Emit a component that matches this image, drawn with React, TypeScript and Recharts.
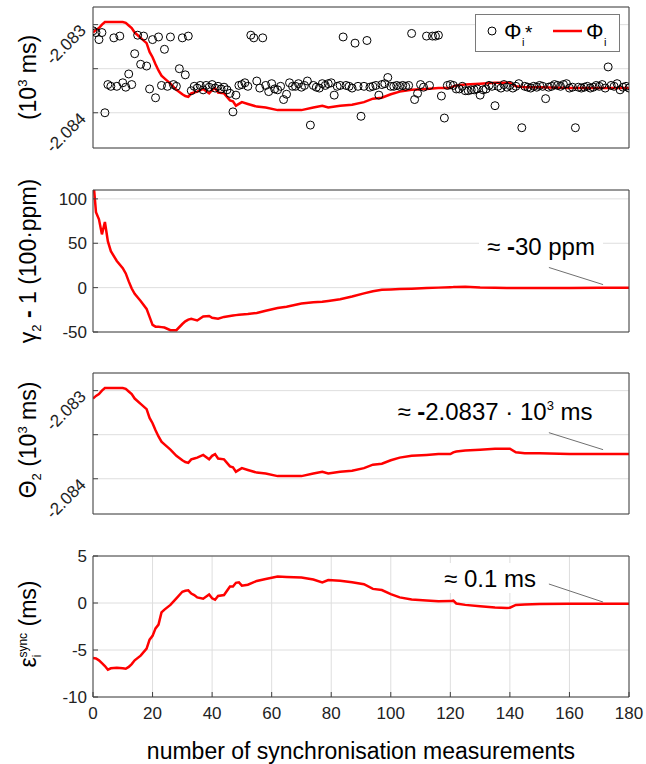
import React from 'react';
import { ComposedChart, Line, Scatter, XAxis, YAxis, CartesianGrid, ReferenceLine } from 'recharts';

const xTicks = [0, 20, 40, 60, 80, 100, 120, 140, 160, 180];
const phaseTicks = [-2.084, -2.0835, -2.083];
const phaseLabelled = [-2.084, -2.083];
const gammaTicks = [-50, 0, 50, 100];
const epsTicks = [-10, -5, 0, 5];

// Φi* per measurement 0..180 (10^3 ms)
const phiStar = [
  -2.08307, -2.08309, -2.08317, -2.08309, -2.084, -2.08368, -2.0837, -2.08315, -2.0837, -2.08313,
  -2.08366, -2.08371, -2.08356, -2.08368, -2.08333, -2.08312, -2.08345, -2.08313, -2.08347, -2.08373,
  -2.08317, -2.08383, -2.08314, -2.08369, -2.08328, -2.0837, -2.08314, -2.08368, -2.0837, -2.0835,
  -2.08315, -2.08357, -2.08313, -2.08375, -2.0837, -2.08372, -2.08369, -2.08374, -2.08369, -2.08371,
  -2.08368, -2.08372, -2.0837, -2.08373, -2.08371, -2.08374, -2.08378, -2.08399, -2.0838, -2.08369,
  -2.08368, -2.08366, -2.0837, -2.08312, -2.08315, -2.08364, -2.08372, -2.08315, -2.08369, -2.08376,
  -2.08367, -2.08373, -2.08374, -2.0837, -2.08385, -2.08379, -2.08366, -2.0837, -2.0837, -2.08367,
  -2.08371, -2.08369, -2.08364, -2.08414, -2.08369, -2.08371, -2.08372, -2.08367, -2.08369, -2.08367,
  -2.08366, -2.0838, -2.0837, -2.08369, -2.08314, -2.08369, -2.0837, -2.08372, -2.08321, -2.0837,
  -2.08404, -2.0837, -2.08318, -2.08371, -2.0837, -2.08369, -2.0838, -2.08368, -2.08367, -2.0836,
  -2.0837, -2.0837, -2.08369, -2.0837, -2.08369, -2.0837, -2.08369, -2.0831, -2.08385, -2.08378,
  -2.08368, -2.08371, -2.08313, -2.08369, -2.08313, -2.08313, -2.08312, -2.08381, -2.08406, -2.08369,
  -2.08368, -2.08369, -2.08373, -2.08373, -2.0837, -2.08375, -2.08375, -2.08374, -2.08374, -2.08373,
  -2.0838, -2.08374, -2.08373, -2.08369, -2.0837, -2.08392, -2.0837, -2.08372, -2.08368, -2.08371,
  -2.08369, -2.08372, -2.0837, -2.08367, -2.08417, -2.0837, -2.08371, -2.08372, -2.0837, -2.08371,
  -2.08369, -2.0837, -2.08384, -2.08371, -2.0837, -2.08368, -2.08369, -2.0837, -2.08368, -2.08367,
  -2.08372, -2.08371, -2.08417, -2.08371, -2.08372, -2.08371, -2.0837, -2.08372, -2.08371, -2.08369,
  -2.0837, -2.08368, -2.08372, -2.08348, -2.08369, -2.0837, -2.08367, -2.08374, -2.08371, -2.0837,
  -2.08372,
];

// sampled estimates of the three fitted quantities
const sampleX = [
  0, 1, 2, 3, 4, 5, 6, 8, 10, 11, 12, 13, 14, 16, 18, 19, 20, 21, 22, 23, 24, 26, 28, 30, 31, 32, 33, 34, 35,
  37, 39, 40, 41, 42, 44, 46, 47, 48, 49, 50, 52, 55, 58, 62, 65, 70, 74, 77, 79, 83, 87, 91, 94, 97, 100,
  103, 107, 112, 116, 120, 121, 122, 125, 130, 135, 139, 140, 142, 145, 150, 160, 170, 180,
];
const theta2 = [
  -2.08309, -2.08306, -2.08304, -2.083, -2.08297, -2.08297, -2.08297, -2.08297, -2.08297, -2.08298, -2.08301,
  -2.08304, -2.08309, -2.08315, -2.08321, -2.08331, -2.08337, -2.08345, -2.08352, -2.08358, -2.08361, -2.08367,
  -2.08374, -2.08379, -2.08381, -2.08382, -2.08378, -2.08377, -2.08376, -2.08373, -2.08378, -2.08374, -2.08372,
  -2.08377, -2.08378, -2.08386, -2.08387, -2.08392, -2.0839, -2.08388, -2.0839, -2.08393, -2.08394, -2.08397,
  -2.08397, -2.08397, -2.08394, -2.08392, -2.08394, -2.08392, -2.08391, -2.08388, -2.08384, -2.08383, -2.08379,
  -2.08376, -2.08374, -2.08373, -2.08372, -2.08372, -2.0837, -2.08369, -2.08368, -2.08367, -2.08366, -2.08366,
  -2.08366, -2.0837, -2.08371, -2.08371, -2.08372, -2.08372, -2.08372,
];
const gamma2 = [
  125, 85, 77, 60, 74, 52, 41, 30, 22, 16, 7, -1, -7, -15, -24, -33, -42, -44, -44, -44.5, -45, -48, -48, -41,
  -38, -36, -35, -36, -37, -32.5, -32, -34, -34.5, -35, -33, -32, -31.5, -31, -30.5, -30.3, -29.8, -28.5, -26,
  -23, -21.5, -18, -16.5, -16, -15, -13, -10, -6.5, -4, -2.5, -2, -1.6, -1.2, -0.5, 0, 0.5, 0.6, 0.8, 1, 0.2,
  -0.2, -0.3, -0.3, -0.3, -0.4, -0.3, -0.3, -0.2, 0,
];
const epsSync = [
  -5.85, -5.9, -6.1, -6.4, -6.7, -7.1, -6.95, -6.9, -6.95, -7, -6.8, -6.5, -6.1, -5.6, -4.85, -3.9, -3.5, -2.7,
  -2.3, -1, -0.7, -0.2, 0.5, 1.2, 1.3, 1.35, 1, 0.85, 0.6, 0.45, 0.9, 0.5, 0.35, 0.75, 0.85, 1.75, 1.75, 2.15,
  2.2, 1.85, 1.95, 2.35, 2.55, 2.82, 2.77, 2.72, 2.5, 2.2, 2.45, 2.36, 2.2, 2, 1.5, 1.38, 0.95, 0.6, 0.38, 0.26,
  0.18, 0.2, 0.25, -0.05, -0.2, -0.35, -0.48, -0.52, -0.5, -0.2, -0.15, -0.1, -0.07, -0.07, -0.07,
];

type Row = { x: number; phiStar: number; theta?: number; gamma?: number; eps?: number };
const rows: Row[] = phiStar.map((v, i) => ({ x: i, phiStar: v }));
sampleX.forEach((x, k) => {
  rows[x].theta = theta2[k];
  rows[x].gamma = gamma2[k];
  rows[x].eps = epsSync[k];
});

const AXIS = '#404040';
const GRID = '#dedede';
const RED = '#ff0000';
const FONT = '"Liberation Sans", Arial, Helvetica, sans-serif';
const W = 646;
const PLOT_LEFT = 93;
const PLOT_RIGHT = 629;
const YW = 60;

const PhaseTick = (props: any) => {
  const { y, payload } = props;
  if (!phaseLabelled.some((v) => Math.abs(v - payload.value) < 1e-9)) return <g />;
  const px = PLOT_LEFT - 6;
  const py = y + 7;
  return (
    <text x={px} y={py} transform={`rotate(-45 ${px} ${py})`} textAnchor="end" fontSize={17} fill="#222" fontFamily={FONT}>
      {payload.value.toFixed(3)}
    </text>
  );
};

const Circle = (p: any) => <circle cx={p.cx} cy={p.cy} r={4} fill="none" stroke="#000" strokeWidth={1} />;

type Pt = { x: number; y: number };
type PanelProps = {
  top: number;
  height: number;
  plotTop: number;
  plotBottom: number;
  yKey: string;
  domain: [number, number];
  yTicks: number[];
  rotated?: boolean;
  withScatter?: boolean;
  xLabels?: boolean;
  pointer?: [Pt, Pt];
};

function Panel({ top, height, plotTop, plotBottom, yKey, domain, yTicks, rotated, withScatter, xLabels, pointer }: PanelProps) {
  const xh = xLabels ? 30 : 1;
  const tickStyle = { fontSize: 17, fill: '#222', fontFamily: FONT };
  return (
    <div style={{ position: 'absolute', left: 0, top }}>
      <ComposedChart
        width={W}
        height={height}
        data={rows}
        margin={{ top: plotTop - top - 1, bottom: top + height - plotBottom - xh, left: PLOT_LEFT - YW, right: W - PLOT_RIGHT - 1 }}
      >
        <CartesianGrid stroke={GRID} />
        <XAxis
          dataKey="x"
          type="number"
          domain={[0, 180]}
          ticks={xTicks}
          interval={0}
          allowDataOverflow
          height={xh}
          tickSize={-5}
          tickMargin={15}
          axisLine={{ stroke: AXIS }}
          tickLine={{ stroke: AXIS }}
          tick={xLabels ? tickStyle : false}
        />
        <XAxis
          xAxisId="top"
          orientation="top"
          dataKey="x"
          type="number"
          domain={[0, 180]}
          ticks={xTicks}
          interval={0}
          allowDataOverflow
          height={1}
          tickSize={-5}
          axisLine={{ stroke: AXIS }}
          tickLine={{ stroke: AXIS }}
          tick={false}
        />
        <YAxis
          type="number"
          domain={domain}
          ticks={yTicks}
          interval={0}
          allowDataOverflow
          width={YW}
          tickSize={-5}
          tickMargin={11}
          axisLine={{ stroke: AXIS }}
          tickLine={{ stroke: AXIS }}
          tick={rotated ? <PhaseTick /> : tickStyle}
        />
        <YAxis
          yAxisId="right"
          orientation="right"
          type="number"
          domain={domain}
          ticks={yTicks}
          interval={0}
          allowDataOverflow
          width={1}
          tickSize={-5}
          axisLine={{ stroke: AXIS }}
          tickLine={{ stroke: AXIS }}
          tick={false}
        />
        {withScatter && <Scatter dataKey="phiStar" isAnimationActive={false} shape={Circle} />}
        <Line dataKey={yKey} stroke={RED} strokeWidth={2.5} dot={false} connectNulls isAnimationActive={false} />
        {pointer && <ReferenceLine segment={pointer} stroke="#707070" strokeWidth={1} />}
      </ComposedChart>
    </div>
  );
}

export default function App() {
  return (
    <div style={{ position: 'absolute', left: 0, top: 0, width: W, height: 764, background: '#fff', fontFamily: FONT }}>
      <Panel top={0} height={160} plotTop={7} plotBottom={148} yKey="theta" domain={[-2.0844, -2.0828]} yTicks={phaseTicks} rotated withScatter />
      <Panel
        top={170}
        height={180}
        plotTop={190}
        plotBottom={332}
        yKey="gamma"
        domain={[-50, 110]}
        yTicks={gammaTicks}
        pointer={[{ x: 153.1, y: 22.7 }, { x: 171.3, y: 3.4 }]}
      />
      <Panel
        top={360}
        height={170}
        plotTop={373}
        plotBottom={514}
        yKey="theta"
        domain={[-2.0844, -2.0828]}
        yTicks={phaseTicks}
        rotated
        pointer={[{ x: 153.1, y: -2.083477 }, { x: 171.3, y: -2.08367 }]}
      />
      <Panel
        top={540}
        height={224}
        plotTop={556}
        plotBottom={697}
        yKey="eps"
        domain={[-10, 5]}
        yTicks={epsTicks}
        xLabels
        pointer={[{ x: 153.1, y: 2.02 }, { x: 171.3, y: 0.1 }]}
      />
      <svg width={W} height={764} style={{ position: 'absolute', left: 0, top: 0, pointerEvents: 'none' }} fontFamily={FONT}>
        {/* axis titles */}
        <text transform="translate(36 77.5) rotate(-90)" textAnchor="middle" fontSize={23} fill="#000">
          (10<tspan fontSize={13} dy={-9}>3</tspan>
          <tspan dy={9}> ms)</tspan>
        </text>
        <text transform="translate(36 261) rotate(-90)" textAnchor="middle" fontSize={23} fill="#000">
          γ<tspan fontSize={13} dy={5}>2</tspan>
          <tspan dy={-5}> </tspan>
          <tspan fontWeight={700}>-</tspan>
          <tspan> 1 (100·ppm)</tspan>
        </text>
        <text transform="translate(36 440) rotate(-90)" textAnchor="middle" fontSize={23} fill="#000">
          Θ<tspan fontSize={13} dy={5}>2</tspan>
          <tspan dy={-5}> (10</tspan>
          <tspan fontSize={13} dy={-9}>3</tspan>
          <tspan dy={9}> ms)</tspan>
        </text>
        <text transform="translate(36 624) rotate(-90)" textAnchor="middle" fontSize={23} fill="#000">
          ε<tspan fontSize={12} dy={5}>i</tspan>
          <tspan fontSize={12} dx={-3} dy={-14}>sync</tspan>
          <tspan dy={9}> (ms)</tspan>
        </text>
        <text x={361} y={759} textAnchor="middle" fontSize={23} fill="#000">
          number of synchronisation measurements
        </text>

        {/* legend */}
        <rect x={475.5} y={14.5} width={144} height={37} fill="#fff" stroke="#7a7a7a" strokeWidth={1} />
        <circle cx={492} cy={31} r={4} fill="none" stroke="#000" strokeWidth={1} />
        <text x={504} y={39} fontSize={22} fill="#000">Φ</text>
        <text x={522} y={46} fontSize={11} fill="#000">i</text>
        <text x={525} y={39} fontSize={19} fill="#000">*</text>
        <line x1={553} x2={582} y1={31} y2={31} stroke={RED} strokeWidth={2.5} />
        <text x={586} y={39} fontSize={22} fill="#000">Φ</text>
        <text x={604} y={46} fontSize={11} fill="#000">i</text>

        {/* annotations */}
        <rect x={479} y={236} width={124} height={30} fill="#fff" />
        <text x={541} y={255} textAnchor="middle" fontSize={24} fill="#000">
          ≈ <tspan fontWeight={700}>-</tspan>30 ppm
        </text>
        <rect x={392} y={395} width={206} height={34} fill="#fff" />
        <text x={495} y={420} textAnchor="middle" fontSize={24} fill="#000">
          ≈ <tspan fontWeight={700}>-</tspan>2.0837 · 10<tspan fontSize={13} dy={-10}>3</tspan>
          <tspan dy={10}> ms</tspan>
        </text>
        <rect x={437} y={563} width={106} height={30} fill="#fff" />
        <text x={490} y={587} textAnchor="middle" fontSize={24} fill="#000">
          ≈ 0.1 ms
        </text>
      </svg>
    </div>
  );
}
